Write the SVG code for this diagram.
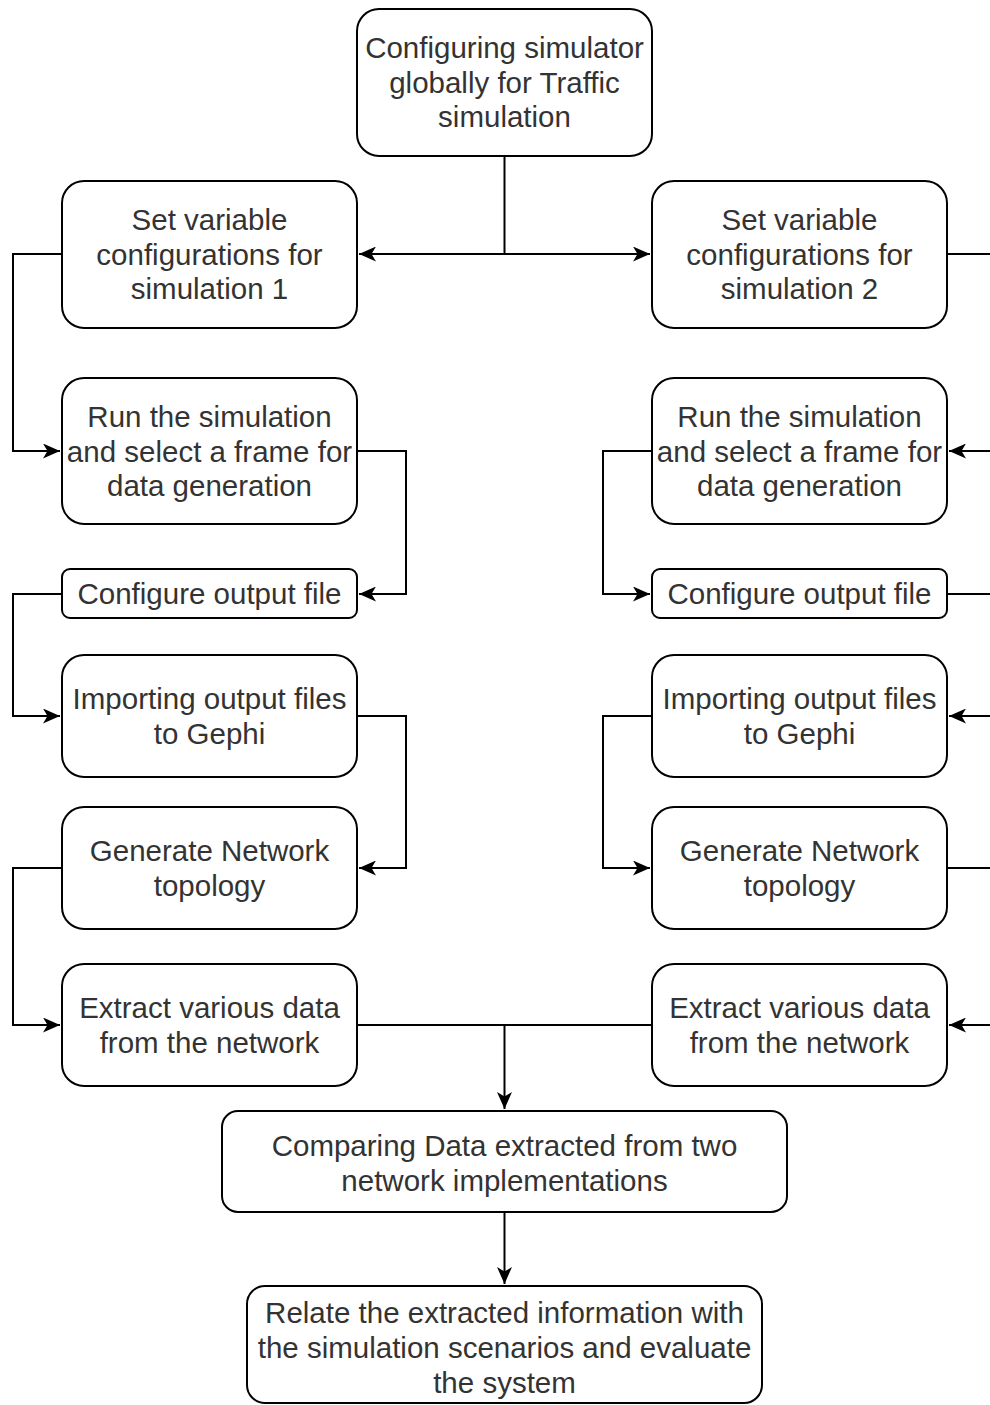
<svg xmlns="http://www.w3.org/2000/svg" width="990" height="1405" viewBox="0 0 990 1405">
<defs>
<style>
.box{fill:#fff;stroke:#000;stroke-width:2}
.t{font-family:"Liberation Sans",Arial,sans-serif;font-size:29.5px;fill:#333;text-anchor:middle}
.c{fill:none;stroke:#000;stroke-width:2}
</style>
<marker id="arr" markerUnits="userSpaceOnUse" markerWidth="17" markerHeight="15" refX="17" refY="7.5" orient="auto" viewBox="0 0 17 15">
<path d="M0,0 L17,7.5 L0,15 L4.5,7.5 Z" fill="#000"/>
</marker>
</defs>
<rect width="990" height="1405" fill="#fff"/>
<g id="connectors">
<path class="c" d="M504.5,156 V254 H359" marker-end="url(#arr)"/>
<path class="c" d="M504.5,254 H650" marker-end="url(#arr)"/>
<path class="c" d="M62,254 H13 V451 H60" marker-end="url(#arr)"/>
<path class="c" d="M357,451 H406 V594 H359" marker-end="url(#arr)"/>
<path class="c" d="M62,594 H13 V716 H60" marker-end="url(#arr)"/>
<path class="c" d="M357,716 H406 V868 H359" marker-end="url(#arr)"/>
<path class="c" d="M62,868 H13 V1025 H60" marker-end="url(#arr)"/>
<path class="c" d="M357,1025 H652"/>
<path class="c" d="M504.5,1025 V1109" marker-end="url(#arr)"/>
<path class="c" d="M947,254 H990"/>
<path class="c" d="M990,451 H949" marker-end="url(#arr)"/>
<path class="c" d="M652,451 H603 V594 H650" marker-end="url(#arr)"/>
<path class="c" d="M947,594 H990"/>
<path class="c" d="M990,716 H949" marker-end="url(#arr)"/>
<path class="c" d="M652,716 H603 V868 H650" marker-end="url(#arr)"/>
<path class="c" d="M947,868 H990"/>
<path class="c" d="M990,1025 H949" marker-end="url(#arr)"/>
<path class="c" d="M504.5,1212 V1284" marker-end="url(#arr)"/>
</g>
<g id="n-top">
<rect class="box" x="357" y="9" width="295" height="147" rx="22"/>
<text class="t" x="504.5" y="58">Configuring simulator</text>
<text class="t" x="504.5" y="93">globally for Traffic</text>
<text class="t" x="504.5" y="127">simulation</text>
</g>
<g id="n-set1">
<rect class="box" x="62" y="181" width="295" height="147" rx="22"/>
<text class="t" x="209.5" y="230">Set variable</text>
<text class="t" x="209.5" y="265">configurations for</text>
<text class="t" x="209.5" y="299">simulation 1</text>
</g>
<g id="n-set2">
<rect class="box" x="652" y="181" width="295" height="147" rx="22"/>
<text class="t" x="799.5" y="230">Set variable</text>
<text class="t" x="799.5" y="265">configurations for</text>
<text class="t" x="799.5" y="299">simulation 2</text>
</g>
<g id="n-run1">
<rect class="box" x="62" y="378" width="295" height="146" rx="22"/>
<text class="t" x="209.5" y="427">Run the simulation</text>
<text class="t" x="209.5" y="462">and select a frame for</text>
<text class="t" x="209.5" y="496">data generation</text>
</g>
<g id="n-run2">
<rect class="box" x="652" y="378" width="295" height="146" rx="22"/>
<text class="t" x="799.5" y="427">Run the simulation</text>
<text class="t" x="799.5" y="462">and select a frame for</text>
<text class="t" x="799.5" y="496">data generation</text>
</g>
<g id="n-cfg1">
<rect class="box" x="62" y="569" width="295" height="49" rx="8"/>
<text class="t" x="209.5" y="604">Configure output file</text>
</g>
<g id="n-cfg2">
<rect class="box" x="652" y="569" width="295" height="49" rx="8"/>
<text class="t" x="799.5" y="604">Configure output file</text>
</g>
<g id="n-imp1">
<rect class="box" x="62" y="655" width="295" height="122" rx="22"/>
<text class="t" x="209.5" y="709">Importing output files</text>
<text class="t" x="209.5" y="744">to Gephi</text>
</g>
<g id="n-imp2">
<rect class="box" x="652" y="655" width="295" height="122" rx="22"/>
<text class="t" x="799.5" y="709">Importing output files</text>
<text class="t" x="799.5" y="744">to Gephi</text>
</g>
<g id="n-gen1">
<rect class="box" x="62" y="807" width="295" height="122" rx="22"/>
<text class="t" x="209.5" y="861">Generate Network</text>
<text class="t" x="209.5" y="896">topology</text>
</g>
<g id="n-gen2">
<rect class="box" x="652" y="807" width="295" height="122" rx="22"/>
<text class="t" x="799.5" y="861">Generate Network</text>
<text class="t" x="799.5" y="896">topology</text>
</g>
<g id="n-ext1">
<rect class="box" x="62" y="964" width="295" height="122" rx="22"/>
<text class="t" x="209.5" y="1018">Extract various data</text>
<text class="t" x="209.5" y="1053">from the network</text>
</g>
<g id="n-ext2">
<rect class="box" x="652" y="964" width="295" height="122" rx="22"/>
<text class="t" x="799.5" y="1018">Extract various data</text>
<text class="t" x="799.5" y="1053">from the network</text>
</g>
<g id="n-compare">
<rect class="box" x="222" y="1111" width="565" height="101" rx="16"/>
<text class="t" x="504.5" y="1156">Comparing Data extracted from two</text>
<text class="t" x="504.5" y="1191">network implementations</text>
</g>
<g id="n-relate">
<rect class="box" x="247" y="1286" width="515" height="117" rx="18"/>
<text class="t" x="504.5" y="1323">Relate the extracted information with</text>
<text class="t" x="504.5" y="1358">the simulation scenarios and evaluate</text>
<text class="t" x="504.5" y="1393">the system</text>
</g>
</svg>
